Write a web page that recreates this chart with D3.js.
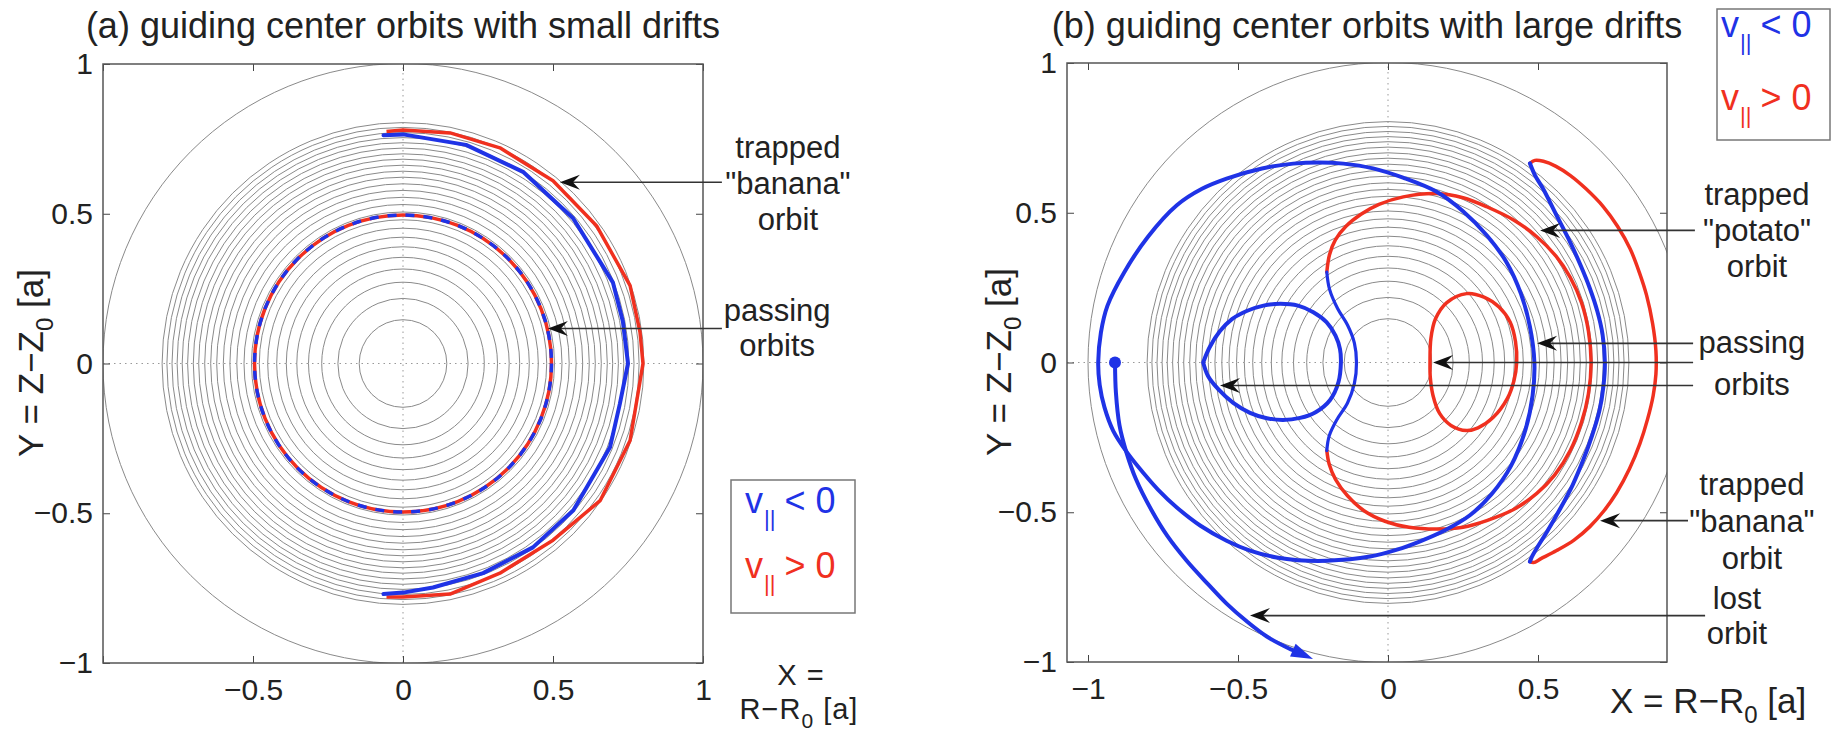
<!DOCTYPE html>
<html>
<head>
<meta charset="utf-8">
<script src="https://cdn.jsdelivr.net/npm/d3@7"></script>
<style>
  body { margin: 0; background: #fff; }
  text { font-family: "Liberation Sans", Arial, sans-serif; fill: #222; }
</style>
</head>
<body>
<svg id="fig" width="1833" height="739"></svg>
<script>
// ---- data (units of minor radius a) ----

// flux-surface circles (radii), same for both panels
const contourRadii = [0.146, 0.217, 0.271, 0.315, 0.354, 0.389, 0.421, 0.451, 0.479, 0.505,
  0.530, 0.554, 0.577, 0.599, 0.621, 0.641, 0.661, 0.681, 0.699, 0.718, 0.736, 0.753,
  0.770, 0.787, 0.803, 1.0];

const yTicks = [-1, -0.5, 0, 0.5, 1];
const xTicksA = [-1, -0.5, 0, 0.5, 1];
const xTickLabelsA = [-0.5, 0, 0.5, 1];
const xTicksB = [-1, -0.5, 0, 0.5];

// panel (a): small drifts
const passingRadiusA = 0.495;
const bananaBlueA = [[-0.065, 0.762], [0.0, 0.765], [0.21, 0.73], [0.40, 0.64], [0.567, 0.485],
  [0.70, 0.27], [0.733, 0.14], [0.75, 0.0], [0.723, -0.134], [0.69, -0.28], [0.568, -0.49],
  [0.433, -0.614], [0.267, -0.70], [0.1, -0.748], [0.0, -0.765], [-0.065, -0.77]];
const bananaRedA = [[-0.055, 0.775], [0.0, 0.78], [0.157, 0.77], [0.323, 0.72], [0.50, 0.61],
  [0.645, 0.46], [0.757, 0.26], [0.79, 0.105], [0.80, 0.0], [0.757, -0.257], [0.657, -0.458],
  [0.50, -0.59], [0.323, -0.70], [0.157, -0.77], [0.0, -0.78], [-0.055, -0.78]];

// panel (b): large drifts
const bigPassingBlue = [[-0.966, 0.0], [-0.957, 0.1], [-0.935, 0.19], [-0.88, 0.3], [-0.8, 0.42],
  [-0.704, 0.525], [-0.62, 0.58], [-0.538, 0.614], [-0.42, 0.648], [-0.316, 0.664], [-0.23, 0.668],
  [-0.149, 0.664], [-0.05, 0.648], [0.05, 0.617], [0.162, 0.57], [0.25, 0.505], [0.329, 0.425],
  [0.395, 0.335], [0.443, 0.23], [0.473, 0.12], [0.488, 0.0], [0.482, -0.11], [0.458, -0.225],
  [0.41, -0.345], [0.345, -0.44], [0.273, -0.51], [0.19, -0.56], [0.107, -0.597], [0.03, -0.625],
  [-0.06, -0.648], [-0.204, -0.662], [-0.30, -0.66], [-0.371, -0.651], [-0.46, -0.628],
  [-0.538, -0.595], [-0.625, -0.545], [-0.704, -0.484], [-0.766, -0.425], [-0.816, -0.368],
  [-0.87, -0.3], [-0.916, -0.228], [-0.945, -0.15], [-0.961, -0.075]];
const smallLoopBlue = [[-0.616, 0.0], [-0.595, 0.05], [-0.56, 0.105], [-0.52, 0.145], [-0.471, 0.172],
  [-0.415, 0.19], [-0.36, 0.196], [-0.3, 0.19], [-0.249, 0.168], [-0.205, 0.135], [-0.175, 0.09],
  [-0.16, 0.045], [-0.157, 0.0], [-0.165, -0.065], [-0.193, -0.125], [-0.24, -0.165],
  [-0.293, -0.185], [-0.35, -0.192], [-0.404, -0.186], [-0.46, -0.168], [-0.516, -0.135],
  [-0.565, -0.09], [-0.6, -0.045], [-0.616, 0.0]];
const potatoRed = [[-0.204, 0.302], [-0.195, 0.36], [-0.175, 0.41], [-0.14, 0.455], [-0.09, 0.495],
  [-0.03, 0.528], [0.051, 0.553], [0.162, 0.564], [0.25, 0.55], [0.329, 0.52], [0.42, 0.475],
  [0.496, 0.42], [0.56, 0.355], [0.607, 0.285], [0.645, 0.2], [0.668, 0.105], [0.677, 0.0],
  [0.668, -0.105], [0.645, -0.2], [0.607, -0.295], [0.556, -0.375], [0.496, -0.437], [0.42, -0.49],
  [0.329, -0.528], [0.25, -0.55], [0.162, -0.556], [0.07, -0.55], [-0.01, -0.53], [-0.08, -0.495],
  [-0.135, -0.445], [-0.175, -0.39], [-0.196, -0.34], [-0.204, -0.294]];
const potatoBlue = [[-0.204, -0.294], [-0.196, -0.245], [-0.17, -0.19], [-0.135, -0.135],
  [-0.112, -0.07], [-0.105, 0.0], [-0.112, 0.065], [-0.135, 0.125], [-0.168, 0.18],
  [-0.195, 0.245], [-0.204, 0.302]];
const smallLoopRed = [[0.14, 0.0], [0.143, 0.08], [0.158, 0.145], [0.196, 0.2], [0.262, 0.23],
  [0.32, 0.218], [0.37, 0.185], [0.407, 0.135], [0.425, 0.07], [0.429, 0.0], [0.42, -0.06],
  [0.398, -0.12], [0.351, -0.183], [0.3, -0.218], [0.262, -0.227], [0.21, -0.21], [0.172, -0.17],
  [0.15, -0.11], [0.141, -0.05]];
const bananaRedB = [[0.473, 0.665], [0.49, 0.675], [0.518, 0.672], [0.56, 0.655], [0.607, 0.625],
  [0.66, 0.58], [0.718, 0.52], [0.765, 0.455], [0.807, 0.38], [0.838, 0.3], [0.862, 0.224],
  [0.882, 0.13], [0.893, 0.04], [0.893, -0.04], [0.884, -0.11], [0.865, -0.19], [0.84, -0.27],
  [0.805, -0.355], [0.762, -0.435], [0.72, -0.495], [0.673, -0.548], [0.62, -0.593],
  [0.562, -0.628], [0.51, -0.655], [0.485, -0.668], [0.473, -0.665]];
const bananaBlueB = [[0.473, 0.665], [0.49, 0.625], [0.517, 0.58], [0.56, 0.495], [0.607, 0.402],
  [0.643, 0.322], [0.673, 0.247], [0.698, 0.17], [0.715, 0.095], [0.723, 0.0], [0.718, -0.08],
  [0.705, -0.16], [0.68, -0.245], [0.651, -0.325], [0.615, -0.41], [0.573, -0.49], [0.53, -0.565],
  [0.496, -0.62], [0.478, -0.652], [0.473, -0.665]];
const lostOrbit = [[-0.91, 0.0], [-0.907, -0.1], [-0.895, -0.21], [-0.872, -0.3], [-0.84, -0.39],
  [-0.79, -0.49], [-0.735, -0.58], [-0.671, -0.662], [-0.6, -0.74], [-0.538, -0.805],
  [-0.47, -0.865], [-0.404, -0.915], [-0.33, -0.955], [-0.25, -0.99]];
const lostStart = [-0.91, 0.0];

// annotations: text block centre (data coords) + arrows (tip point, tail x)
const annotA = [
  { lines: ["trapped", "\"banana\"", "orbit"], tx: 1.283, ty: 0.602, lh: 36, arrows: [{ tip: [0.523, 0.605], tail: 1.063 }] },
  { lines: ["passing", "orbits"], tx: 1.247, ty: 0.119, lh: 35, arrows: [{ tip: [0.483, 0.117], tail: 1.063 }] }
];
const annotB = [
  { lines: ["trapped", "\"potato\"", "orbit"], tx: 1.23, ty: 0.441, lh: 36, arrows: [{ tip: [0.507, 0.441], tail: 1.023 }] },
  { lines: ["passing", "orbits"], tx: 1.213, ty: 0.0, lh: 42,
    arrows: [{ tip: [0.497, 0.064], tail: 1.017 }, { tip: [0.15, 0.0], tail: 1.017 }, { tip: [-0.56, -0.077], tail: 1.017 }] },
  { lines: ["trapped", "\"banana\"", "orbit"], tx: 1.213, ty: -0.528, lh: 37, arrows: [{ tip: [0.707, -0.528], tail: 1.0 }] },
  { lines: ["lost", "orbit"], tx: 1.163, ty: -0.845, lh: 35, arrows: [{ tip: [-0.46, -0.845], tail: 1.057 }] }
];

const BLUE = "#1f33e6", RED = "#f0301f";

var svg = d3.select("#fig");

function setupPanel(id, xDomain, xRange, yRange) {
  var x = d3.scaleLinear().domain(xDomain).range(xRange);
  var y = d3.scaleLinear().domain([-1, 1]).range(yRange);
  var g = svg.append("g").attr("id", id);
  g.append("clipPath").attr("id", id + "-clip")
    .append("rect")
    .attr("x", xRange[0]).attr("y", yRange[1])
    .attr("width", xRange[1] - xRange[0]).attr("height", yRange[0] - yRange[1]);
  var plot = g.append("g").attr("clip-path", "url(#" + id + "-clip)");

  // flux surfaces
  plot.selectAll("circle.flux")
    .data(contourRadii)
    .join("circle")
      .attr("class", "flux")
      .attr("cx", x(0)).attr("cy", y(0))
      .attr("r", d => x(d) - x(0))
      .attr("fill", "none").attr("stroke", "#8a8a8a").attr("stroke-width", 1);

  // dotted zero lines
  plot.append("line").attr("x1", x(0)).attr("x2", x(0)).attr("y1", yRange[0]).attr("y2", yRange[1])
    .attr("stroke", "#999").attr("stroke-width", 1).attr("stroke-dasharray", "1.5,4");
  plot.append("line").attr("x1", xRange[0]).attr("x2", xRange[1]).attr("y1", y(0)).attr("y2", y(0))
    .attr("stroke", "#999").attr("stroke-width", 1).attr("stroke-dasharray", "1.5,4");

  return { g: g, plot: plot, x: x, y: y, xRange: xRange, yRange: yRange };
}

function drawAxes(p, xTicks, xLabels, title) {
  var fmt = d3.format("");
  var bottom = p.g.append("g").attr("transform", "translate(0," + p.yRange[0] + ")")
    .call(d3.axisBottom(p.x).tickValues(xTicks).tickSizeInner(-7).tickSizeOuter(0).tickPadding(16)
      .tickFormat(d => xLabels.indexOf(d) >= 0 ? fmt(d) : ""));
  var top = p.g.append("g").attr("transform", "translate(0," + p.yRange[1] + ")")
    .call(d3.axisTop(p.x).tickValues(xTicks).tickSizeInner(-7).tickSizeOuter(0).tickFormat(""));
  var left = p.g.append("g").attr("transform", "translate(" + p.xRange[0] + ",0)")
    .call(d3.axisLeft(p.y).tickValues(yTicks).tickSizeInner(-7).tickSizeOuter(0).tickPadding(10).tickFormat(fmt));
  var right = p.g.append("g").attr("transform", "translate(" + p.xRange[1] + ",0)")
    .call(d3.axisRight(p.y).tickValues(yTicks).tickSizeInner(-7).tickSizeOuter(0).tickFormat(""));
  [bottom, top, left, right].forEach(a => {
    a.selectAll(".domain").remove();
    a.selectAll(".tick line").attr("stroke", "#444");
    a.selectAll("text").attr("font-size", 30).attr("fill", "#222")
      .attr("font-family", "\"Liberation Sans\", Arial, sans-serif");
  });
  // box
  p.g.append("rect")
    .attr("x", p.xRange[0]).attr("y", p.yRange[1])
    .attr("width", p.xRange[1] - p.xRange[0]).attr("height", p.yRange[0] - p.yRange[1])
    .attr("fill", "none").attr("stroke", "#555").attr("stroke-width", 1.5);
  // title
  p.g.append("text")
    .attr("x", (p.xRange[0] + p.xRange[1]) / 2).attr("y", 38)
    .attr("text-anchor", "middle").attr("font-size", 36)
    .text(title);
}

function yLabel(xpos, ymid) {
  var t = svg.append("text")
    .attr("transform", "translate(" + xpos + "," + ymid + ") rotate(-90)")
    .attr("text-anchor", "middle").attr("font-size", 35);
  t.append("tspan").text("Y = Z\u2212Z");
  t.append("tspan").attr("dy", 10).attr("font-size", 24).text("0");
  t.append("tspan").attr("dy", -10).text(" [a]");
}

function legend(x0, y0, w, h, tx, base1, base2) {
  var lg = svg.append("g");
  lg.append("rect").attr("x", x0).attr("y", y0).attr("width", w).attr("height", h)
    .attr("fill", "#fff").attr("stroke", "#777").attr("stroke-width", 1.5);
  [[base1, "< 0", BLUE], [base2, "> 0", RED]].forEach(r => {
    var t = lg.append("text").attr("x", tx).attr("y", r[0]).attr("font-size", 36).style("fill", r[2]);
    t.append("tspan").text("v");
    t.append("tspan").attr("dy", 13).attr("dx", 1).attr("font-size", 22).text("||");
    t.append("tspan").attr("dy", -13).attr("dx", 9).text(r[1]);
  });
}

function annotate(p, list) {
  list.forEach(a => {
    var cx = p.x(a.tx), cy = p.y(a.ty);
    var n = a.lines.length;
    a.lines.forEach((s, i) => {
      p.g.append("text")
        .attr("x", cx).attr("y", cy + (i - (n - 1) / 2) * a.lh + 11)
        .attr("text-anchor", "middle").attr("font-size", 31).attr("fill", "#222")
        .text(s);
    });
    a.arrows.forEach(ar => {
      var tx = p.x(ar.tip[0]), ty = p.y(ar.tip[1]), ex = p.x(ar.tail);
      p.g.append("line").attr("x1", ex).attr("y1", ty).attr("x2", tx + 12).attr("y2", ty)
        .attr("stroke", "#333").attr("stroke-width", 1.6);
      p.g.append("path")
        .attr("d", "M" + tx + "," + ty + " L" + (tx + 20) + "," + (ty - 7.5) + " L" + (tx + 13) + "," + ty +
          " L" + (tx + 20) + "," + (ty + 7.5) + " Z")
        .attr("fill", "#111");
    });
  });
}

// ================= panel (a) =================
var pa = setupPanel("pa", [-1, 1], [103, 703], [663, 64]);
var lineA = d3.line().x(d => pa.x(d[0])).y(d => pa.y(d[1]));

// passing orbit: red with blue dashes on top
pa.plot.append("circle").attr("cx", pa.x(0)).attr("cy", pa.y(0)).attr("r", pa.x(passingRadiusA) - pa.x(0))
  .attr("fill", "none").attr("stroke", RED).attr("stroke-width", 3.5);
pa.plot.append("circle").attr("cx", pa.x(0)).attr("cy", pa.y(0)).attr("r", pa.x(passingRadiusA) - pa.x(0))
  .attr("fill", "none").attr("stroke", BLUE).attr("stroke-width", 3.5).attr("stroke-dasharray", "9,9");

pa.plot.append("path").datum(bananaRedA).attr("d", lineA)
  .attr("fill", "none").attr("stroke", RED).attr("stroke-width", 3.5).attr("stroke-linejoin", "round");
pa.plot.append("path").datum(bananaBlueA).attr("d", lineA)
  .attr("fill", "none").attr("stroke", BLUE).attr("stroke-width", 4).attr("stroke-linejoin", "round")
  .attr("stroke-linecap", "round");

drawAxes(pa, xTicksA, xTickLabelsA, "(a) guiding center orbits with small drifts");
yLabel(43, 363);
annotate(pa, annotA);
legend(731, 480, 124, 133, 745, 513, 578);

// x label of panel (a), two lines
svg.append("text").attr("x", 801).attr("y", 685).attr("text-anchor", "middle")
  .attr("font-size", 29).attr("letter-spacing", 1).text("X =");
var xla = svg.append("text").attr("x", 799).attr("y", 719).attr("text-anchor", "middle")
  .attr("font-size", 29).attr("letter-spacing", 1);
xla.append("tspan").text("R\u2212R");
xla.append("tspan").attr("dy", 9).attr("font-size", 21).text("0");
xla.append("tspan").attr("dy", -9).text(" [a]");

// ================= panel (b) =================
var pb = setupPanel("pb", [-1.07, 0.93], [1067, 1667], [662, 63]);
var openB = d3.line().x(d => pb.x(d[0])).y(d => pb.y(d[1])).curve(d3.curveCatmullRom);
var closedB = d3.line().x(d => pb.x(d[0])).y(d => pb.y(d[1])).curve(d3.curveCatmullRomClosed);

function orbit(data, gen, color, w) {
  pb.plot.append("path").datum(data).attr("d", gen)
    .attr("fill", "none").attr("stroke", color).attr("stroke-width", w)
    .attr("stroke-linejoin", "round").attr("stroke-linecap", "round");
}
orbit(potatoRed, openB, RED, 3.5);
orbit(smallLoopRed, closedB, RED, 3.5);
orbit(bananaRedB, openB, RED, 3.5);
orbit(bigPassingBlue, closedB, BLUE, 4);
orbit(smallLoopBlue, openB, BLUE, 4);
orbit(potatoBlue, openB, BLUE, 3.2);
orbit(bananaBlueB, openB, BLUE, 4);

// lost orbit with arrowhead
var lostPts = lostOrbit.slice(0, lostOrbit.length - 1);
var tipPt = lostOrbit[lostOrbit.length - 1];
var prevPt = lostOrbit[lostOrbit.length - 2];
var tX = pb.x(tipPt[0]), tY = pb.y(tipPt[1]);
var ang = Math.atan2(tY - pb.y(prevPt[1]), tX - pb.x(prevPt[0]));
var L = 22, W = 7;
var bX = tX - L * Math.cos(ang), bY = tY - L * Math.sin(ang);
orbit(lostPts.concat([[pb.x.invert(bX), pb.y.invert(bY)]]), openB, BLUE, 4);
pb.plot.append("path")
  .attr("d", "M" + tX + "," + tY +
    " L" + (bX + W * Math.sin(ang)) + "," + (bY - W * Math.cos(ang)) +
    " L" + (bX - W * Math.sin(ang)) + "," + (bY + W * Math.cos(ang)) + " Z")
  .attr("fill", BLUE);
pb.plot.append("circle").attr("cx", pb.x(lostStart[0])).attr("cy", pb.y(lostStart[1])).attr("r", 6).attr("fill", BLUE);

drawAxes(pb, xTicksB, xTicksB, "(b) guiding center orbits with large drifts");
yLabel(1011, 362);
annotate(pb, annotB);
legend(1717, 9, 113, 131, 1721, 37, 110);

var xlb = svg.append("text").attr("x", 1610).attr("y", 713).attr("font-size", 35);
xlb.append("tspan").text("X = R\u2212R");
xlb.append("tspan").attr("dy", 10).attr("font-size", 24).text("0");
xlb.append("tspan").attr("dy", -10).text(" [a]");
</script>
</body>
</html>
